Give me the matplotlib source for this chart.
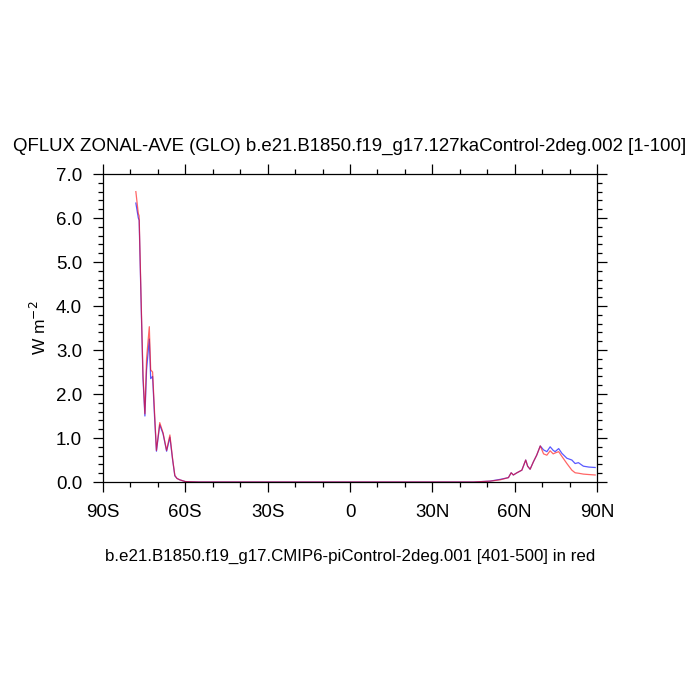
import numpy as np
import matplotlib.pyplot as plt
from matplotlib.ticker import MultipleLocator

plt.rcParams['font.family'] = ['Liberation Sans', 'DejaVu Sans']

# latitude points (deg) and zonal-average QFLUX (W m-2)
lat = [-78.0, -77.1, -76.8, -76.0, -75.4, -74.7, -74.1, -73.1, -72.6, -71.9,
       -71.2, -70.5, -69.3, -68.1, -66.8, -65.6, -64.6, -63.8, -63.0, -62.0,
       -61.0, -60.0, -58.0, -55.0, -50.0, -40.0, -30.0, -20.0, -10.0, 0.0,
       10.0, 20.0, 30.0, 40.0, 45.0, 48.0, 51.0, 54.7, 57.7, 58.7, 59.5,
       60.8, 62.6, 64.0, 64.7, 65.6, 66.8, 68.0, 69.3, 70.5, 71.7, 72.9,
       74.0, 74.7, 76.0, 77.2, 79.0, 80.8, 82.0, 83.2, 85.0, 87.0, 89.3]

# b.e21.B1850.f19_g17.127kaControl-2deg.002 (blue)
qflux_127ka = [6.34, 6.0, 5.95, 3.85, 2.35, 1.5, 2.55, 3.25, 2.35, 2.4,
               1.5, 0.7, 1.3, 1.1, 0.7, 1.02, 0.5, 0.14, 0.08, 0.05,
               0.03, 0.01, 0.005, 0.0, 0.0, 0.0, 0.0, 0.0, 0.0, 0.0,
               0.0, 0.0, 0.0, 0.0, 0.0, 0.01, 0.02, 0.06, 0.1, 0.21, 0.16,
               0.21, 0.27, 0.5, 0.36, 0.29, 0.46, 0.61, 0.82, 0.73, 0.69, 0.8,
               0.72, 0.69, 0.76, 0.65, 0.54, 0.5, 0.42, 0.44, 0.36, 0.34, 0.33]

# b.e21.B1850.f19_g17.CMIP6-piControl-2deg.001 (red)
qflux_pi = [6.6, 6.1, 6.05, 3.95, 2.45, 1.55, 2.8, 3.53, 2.55, 2.5,
            1.6, 0.72, 1.35, 1.12, 0.72, 1.07, 0.52, 0.15, 0.08, 0.05,
            0.03, 0.01, 0.005, 0.0, 0.0, 0.0, 0.0, 0.0, 0.0, 0.0,
            0.0, 0.0, 0.0, 0.0, 0.0, 0.01, 0.02, 0.05, 0.1, 0.21, 0.16,
            0.21, 0.27, 0.5, 0.36, 0.29, 0.46, 0.61, 0.82, 0.64, 0.61, 0.71,
            0.64, 0.66, 0.69, 0.58, 0.42, 0.27, 0.21, 0.2, 0.18, 0.17, 0.16]

xticks = [-90, -60, -30, 0, 30, 60, 90]
xticklabels = ['90S', '60S', '30S', '0', '30N', '60N', '90N']
yticks = [0, 1, 2, 3, 4, 5, 6, 7]

fig = plt.figure(figsize=(7, 7), dpi=100)
ax = fig.add_axes([0.147, 0.3114, 0.706, 0.44])

ax.plot(lat, qflux_127ka, color='#3030ff', lw=0.9, alpha=0.8)
ax.plot(lat, qflux_pi, color='red', lw=0.9, alpha=0.6)

ax.set_xlim(-90, 90)
ax.set_ylim(0, 7)
ax.set_xticks(xticks)
ax.set_xticklabels(xticklabels)
ax.set_yticks(yticks)
ax.set_yticklabels(['%.1f' % v for v in yticks])
ax.xaxis.set_minor_locator(MultipleLocator(10))
ax.yaxis.set_minor_locator(MultipleLocator(0.2))

ax.tick_params(which='both', direction='out', top=True, right=True,
               labelsize=13.5, width=0.9)
ax.tick_params(which='major', length=7)
ax.tick_params(which='minor', length=3.5)
ax.tick_params(axis='y', pad=8)
ax.tick_params(axis='x', pad=9)
for s in ax.spines.values():
    s.set_linewidth(0.9)

ax.set_title('QFLUX ZONAL-AVE (GLO) b.e21.B1850.f19_g17.127kaControl-2deg.002 [1-100]',
             fontsize=13.4, pad=17)
ax.set_ylabel('W m$^{-2}$', fontsize=12.5, labelpad=5)
ax.set_xlabel('b.e21.B1850.f19_g17.CMIP6-piControl-2deg.001 [401-500] in red',
              fontsize=12.2, labelpad=20)

fig.savefig('out.png', dpi=100)
